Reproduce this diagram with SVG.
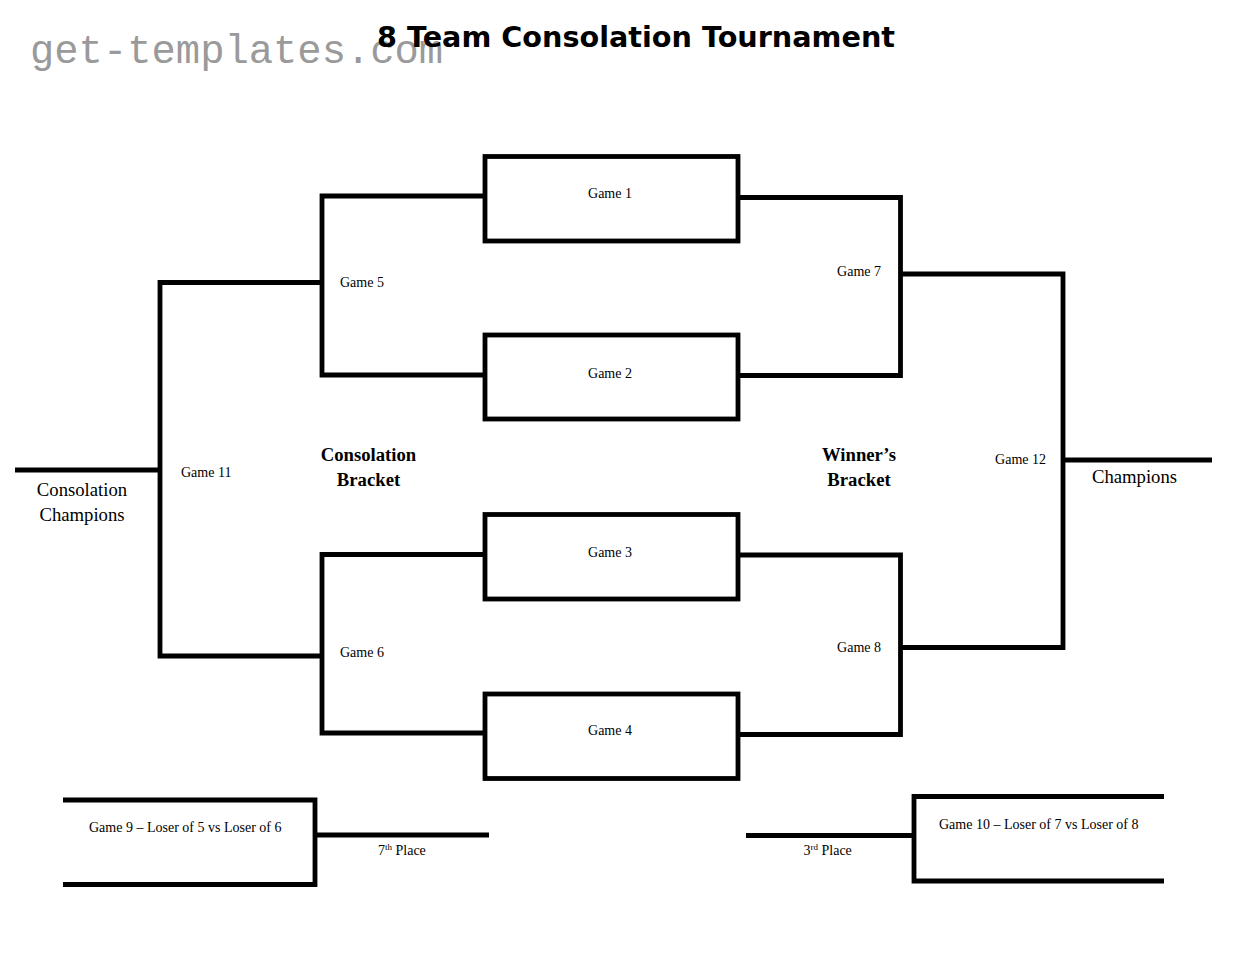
<svg xmlns="http://www.w3.org/2000/svg" width="1250" height="966" viewBox="0 0 1250 966">
<style>
.box{fill:none;stroke:#000;stroke-width:4.8}
.ln{fill:none;stroke:#000;stroke-width:4.8;stroke-linejoin:miter;stroke-linecap:butt}
.g{font-family:"Liberation Serif","Times New Roman",serif;font-size:14px;fill:#000}
.big{font-family:"Liberation Serif","Times New Roman",serif;font-size:18.7px;fill:#000}
.bold{font-family:"Liberation Serif","Times New Roman",serif;font-size:18.7px;font-weight:bold;fill:#000}
.sup{font-size:9px}
</style>
<rect width="1250" height="966" fill="#fff"/>
<g id="watermark">
<text x="30" y="63" font-family="'Liberation Mono','Courier New',monospace" font-size="40.5" fill="#9a9a9a">get-templates.com</text>
</g>
<g id="title">
<text x="377" y="46.5" font-family="'DejaVu Sans',Verdana,sans-serif" font-weight="bold" font-size="28.5" textLength="518" lengthAdjust="spacingAndGlyphs" fill="#000">8 Team Consolation Tournament</text>
</g>
<g id="connectors">
<path class="ln" d="M485,196 H322 V375 H485"/>
<path class="ln" d="M485,554.5 H322 V733 H485"/>
<path class="ln" d="M322,282.5 H160 V656 H322"/>
<path class="ln" d="M15,470 H160"/>
<path class="ln" d="M738,197.5 H900.5 V375.5 H738"/>
<path class="ln" d="M738,555 H900.5 V734.5 H738"/>
<path class="ln" d="M900.5,274 H1063 V647.5 H900.5"/>
<path class="ln" d="M1063,460 H1212"/>
<path class="ln" d="M315,835 H489"/>
<path class="ln" d="M746,835.5 H914"/>
</g>
<g id="game1"><rect class="box" x="485" y="156.5" width="253" height="84.5"/><text class="g" x="610" y="198" text-anchor="middle">Game 1</text></g>
<g id="game2"><rect class="box" x="485" y="335" width="253" height="84"/><text class="g" x="610" y="378" text-anchor="middle">Game 2</text></g>
<g id="game3"><rect class="box" x="485" y="514.5" width="253" height="84.5"/><text class="g" x="610" y="556.5" text-anchor="middle">Game 3</text></g>
<g id="game4"><rect class="box" x="485" y="694" width="253" height="84.5"/><text class="g" x="610" y="735" text-anchor="middle">Game 4</text></g>
<g id="game5"><text class="g" x="340" y="287">Game 5</text></g>
<g id="game6"><text class="g" x="340" y="657">Game 6</text></g>
<g id="game7"><text class="g" x="881" y="276" text-anchor="end">Game 7</text></g>
<g id="game8"><text class="g" x="881" y="651.5" text-anchor="end">Game 8</text></g>
<g id="game11"><text class="g" x="181" y="477">Game 11</text></g>
<g id="game12"><text class="g" x="1046" y="464" text-anchor="end">Game 12</text></g>
<g id="consolation-champions"><text class="big" x="82" y="496" text-anchor="middle">Consolation</text><text class="big" x="82" y="521" text-anchor="middle">Champions</text></g>
<g id="champions"><text class="big" x="1134.5" y="483" text-anchor="middle">Champions</text></g>
<g id="consolation-bracket"><text class="bold" x="368.5" y="461" text-anchor="middle">Consolation</text><text class="bold" x="368.5" y="486" text-anchor="middle">Bracket</text></g>
<g id="winners-bracket"><text class="bold" x="859" y="461" text-anchor="middle">Winner’s</text><text class="bold" x="859" y="485.5" text-anchor="middle">Bracket</text></g>
<g id="game9">
<path class="ln" d="M63,800 H315 V884.5 H63"/>
<text class="g" x="89" y="832">Game 9 – Loser of 5 vs Loser of 6</text>
</g>
<g id="game10">
<path class="ln" d="M1164,796.5 H914 V881 H1164"/>
<text class="g" x="939" y="828.5">Game 10 – Loser of 7 vs Loser of 8</text>
</g>
<g id="seventh-place"><text class="g" x="378" y="855">7<tspan class="sup" dy="-5">th</tspan><tspan dy="5"> Place</tspan></text></g>
<g id="third-place"><text class="g" x="803.5" y="855">3<tspan class="sup" dy="-5">rd</tspan><tspan dy="5"> Place</tspan></text></g>
</svg>
